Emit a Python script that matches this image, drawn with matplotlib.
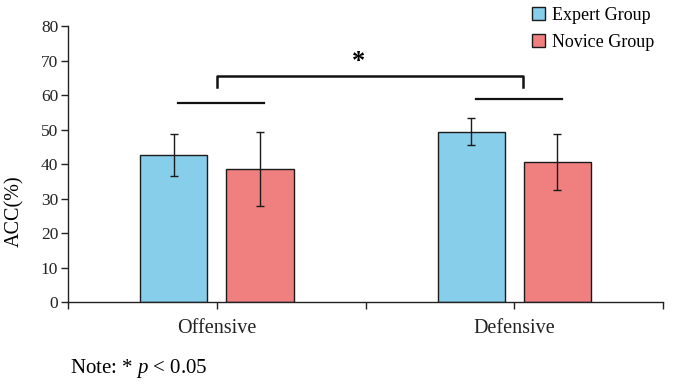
import numpy as np
import matplotlib
matplotlib.use("Agg")
import matplotlib.pyplot as plt
from matplotlib.patches import Patch

plt.rcParams["font.family"] = ["Liberation Serif", "DejaVu Serif"]
plt.rcParams["mathtext.fontset"] = "custom"
plt.rcParams["mathtext.rm"] = "Liberation Serif"
plt.rcParams["mathtext.it"] = "Liberation Serif:italic"

categories = ["Offensive", "Defensive"]
groups = ["Expert Group", "Novice Group"]
expert_mean = [42.6, 49.3]
expert_err = [6.0, 3.9]
novice_mean = [38.6, 40.5]
novice_err = [10.7, 8.1]

# heights of the significance lines
pair_line_y = [57.6, 58.9]
bracket_top = 65.6
bracket_leg = 62.2
star_y = 66.3

colors = ["#87CEEB", "#F08080"]

fig = plt.figure(figsize=(6.77, 3.87), dpi=100)
ax = fig.add_axes([0.1004, 0.2196, 0.879, 0.7132])

x = np.arange(len(categories)) + 0.5
offset = 0.145
width = 0.226

ax.bar(x - offset, expert_mean, width, color=colors[0], edgecolor="#1a1a1a", linewidth=1.0, zorder=2)
ax.bar(x + offset, novice_mean, width, color=colors[1], edgecolor="#1a1a1a", linewidth=1.0, zorder=2)
ax.errorbar(x - offset, expert_mean, yerr=expert_err, fmt="none", ecolor="#1a1a1a",
            elinewidth=1.0, capsize=3, capthick=1.0, zorder=3)
ax.errorbar(x + offset, novice_mean, yerr=novice_err, fmt="none", ecolor="#1a1a1a",
            elinewidth=1.0, capsize=3, capthick=1.0, zorder=3)

# lines over each pair of bars
for xi, yl in zip(x, pair_line_y):
    ax.plot([xi - 0.13, xi + 0.16], [yl, yl], color="#111111", lw=1.6)

# bracket between the two categories
ax.plot([x[0], x[0], x[1] + 0.03, x[1] + 0.03], [bracket_leg, bracket_top, bracket_top, bracket_leg],
        color="#111111", lw=1.8)
ax.text(0.975, star_y, "*", ha="center", va="bottom", fontsize=19, fontweight="bold")

ax.set_xlim(0, 2)
ax.set_ylim(0, 80)
ax.set_yticks(range(0, 90, 10))
ax.set_xticks([0, 0.5, 1, 1.5, 2])
ax.set_xticklabels(["", categories[0], "", categories[1], ""], fontsize=14.5)
ax.tick_params(axis="y", labelsize=12.5, direction="out", length=5, width=1, pad=2, colors="#222222")
ax.tick_params(axis="x", direction="out", length=5, width=1, pad=7, colors="#222222")
for s in ["top", "right"]:
    ax.spines[s].set_visible(False)
for s in ["left", "bottom"]:
    ax.spines[s].set_linewidth(1.0)
    ax.spines[s].set_color("#222222")

fig.text(0.022, 0.455, "ACC(%)", rotation=90, ha="center", va="center", fontsize=14.5)

handles = [Patch(facecolor=c, edgecolor="#1a1a1a", linewidth=1.0) for c in colors]
fig.legend(handles, groups, loc="upper right", bbox_to_anchor=(0.99, 1.025), frameon=False,
           fontsize=13, handlelength=0.75, handleheight=0.8, handletextpad=0.35, labelspacing=0.55)

fig.text(0.103, 0.047, r"Note: * $\mathit{p}$ < 0.05", fontsize=15, ha="left", va="center")

fig.savefig("out.png", dpi=100)
